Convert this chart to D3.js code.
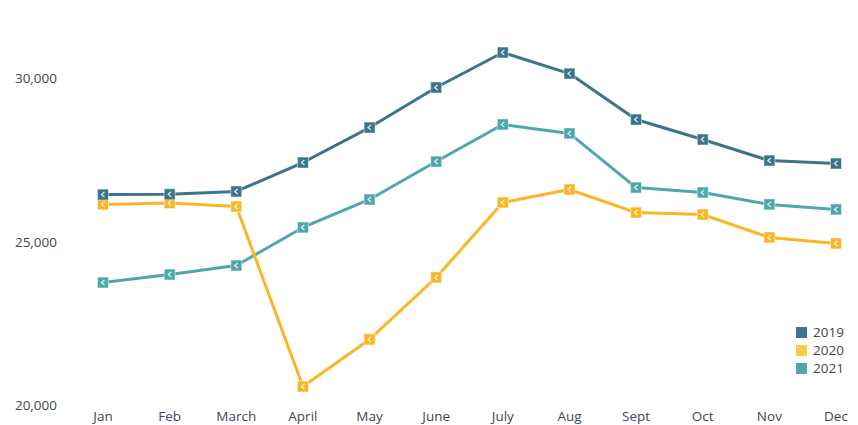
<!DOCTYPE html>
<html>
<head>
<meta charset="utf-8">
<script src="https://cdn.jsdelivr.net/npm/d3@7"></script>
<style>
  body { margin: 0; background: #fff; }
  svg text { font-family: "Open Sans", Lato, sans-serif; fill: #3e4756; }
</style>
</head>
<body>
<svg id="chart"></svg>
<script>
const months = ["Jan", "Feb", "March", "April", "May", "June", "July", "Aug", "Sept", "Oct", "Nov", "Dec"];
const years = ["2019", "2020", "2021"];
const values2019 = [26450, 26460, 26545, 27430, 28500, 29725, 30795, 30150, 28745, 28135, 27490, 27400];
const values2020 = [26150, 26190, 26085, 20580, 22020, 23915, 26210, 26605, 25900, 25840, 25140, 24955];
const values2021 = [23760, 24005, 24280, 25445, 26300, 27460, 28595, 28320, 26665, 26515, 26150, 25995];
const yTicks = [20000, 25000, 30000];
const colors = ["#3c7489", "#fbb625", "#4ea8ab"];
const legendColors = ["#3c7489", "#ffc845", "#4ea8ab"];

const width = 858, height = 425;
const svg = d3.select("#chart").attr("width", width).attr("height", height);

const x = d3.scalePoint().domain(months).range([103, 836]);
const y = d3.scaleLinear().domain([20000, 30000]).range([405.5, 78.5]);

// y axis labels
svg.append("g").selectAll("text")
  .data(yTicks)
  .enter().append("text")
  .attr("x", 57)
  .attr("y", d => y(d))
  .attr("dy", "0.35em")
  .attr("text-anchor", "end")
  .attr("font-size", 13.5)
  .text(d => d3.format(",")(d));

// x axis labels
svg.append("g").selectAll("text")
  .data(months)
  .enter().append("text")
  .attr("x", d => x(d))
  .attr("y", 421)
  .attr("text-anchor", "middle")
  .attr("font-size", 13.5)
  .text(d => d);

const series = [values2019, values2020, values2021];
const line = d3.line().x((d, i) => x(months[i])).y(d => y(d));

// 2021 at the back, 2019 on top
const order = [2, 1, 0];
order.forEach(s => {
  const g = svg.append("g");
  g.append("path")
    .datum(series[s])
    .attr("fill", "none")
    .attr("stroke", colors[s])
    .attr("stroke-width", 3)
    .attr("stroke-linejoin", "round")
    .attr("d", line);
  const m = g.selectAll("g.marker")
    .data(series[s])
    .enter().append("g")
    .attr("transform", (d, i) => `translate(${x(months[i])},${y(d)})`);
  m.append("rect")
    .attr("x", -5.5).attr("y", -5.5)
    .attr("width", 11).attr("height", 11)
    .attr("fill", colors[s])
    .attr("stroke", "#fff")
    .attr("stroke-opacity", 0.5)
    .attr("stroke-width", 1);
  m.append("path")
    .attr("d", "M1.5,-2.5 L-1.5,0 L1.5,2.5")
    .attr("fill", "none")
    .attr("stroke", "#fff")
    .attr("stroke-width", 1.2)
    .attr("stroke-opacity", 0.85);
});

// legend
const legend = svg.append("g").selectAll("g")
  .data(years)
  .enter().append("g")
  .attr("transform", (d, i) => `translate(796,${327 + i * 18})`);
legend.append("rect")
  .attr("width", 11).attr("height", 11)
  .attr("fill", (d, i) => legendColors[i]);
legend.append("text")
  .attr("x", 17)
  .attr("y", 5.5)
  .attr("dy", "0.35em")
  .attr("font-size", 13.5)
  .text(d => d);
</script>
</body>
</html>
